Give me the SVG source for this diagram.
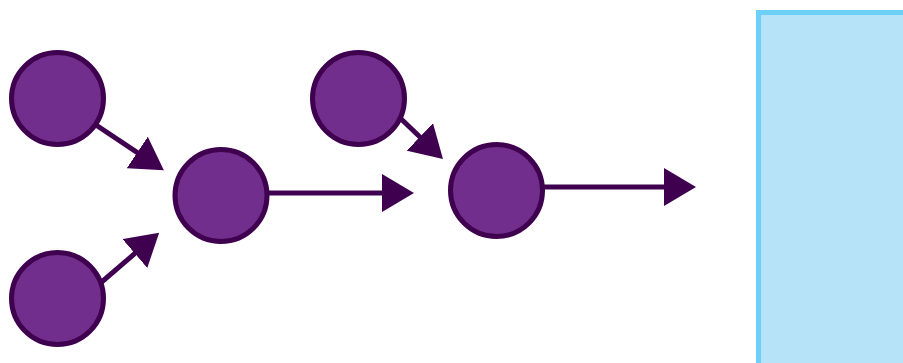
<svg xmlns="http://www.w3.org/2000/svg" width="903" height="363" viewBox="0 0 903 363">
<style>
.node{fill:#722e8c;stroke:#3f0050;stroke-width:5}
.edge{stroke:#3f0050;stroke-width:5;fill:none;marker-end:url(#ah)}
</style>
<defs>
<marker id="ah" markerUnits="userSpaceOnUse" markerWidth="32" markerHeight="38" viewBox="0 0 32 38" refX="2" refY="19" orient="auto">
<path d="M0,0 L32,19 L0,38 z" fill="#3f0050"/>
</marker>
</defs>
<rect x="758.5" y="12.5" width="160" height="360" fill="#b7e3f9" stroke="#6dd0f7" stroke-width="5"/>
<g id="connectors">
<line class="edge" x1="90" y1="121" x2="138.9" y2="153.6"/>
<line class="edge" x1="97" y1="286" x2="136.4" y2="252.2"/>
<line class="edge" x1="265" y1="193" x2="384" y2="193"/>
<line class="edge" x1="398" y1="116" x2="421.3" y2="138.3"/>
<line class="edge" x1="540" y1="187" x2="666" y2="187"/>
</g>
<g id="nodeA"><circle class="node" cx="57.5" cy="98.5" r="46"/></g>
<g id="nodeB"><circle class="node" cx="221" cy="195.5" r="46"/></g>
<g id="nodeC"><circle class="node" cx="57.5" cy="298.5" r="46"/></g>
<g id="nodeD"><circle class="node" cx="358.5" cy="98.5" r="46"/></g>
<g id="nodeE"><circle class="node" cx="496.5" cy="190.5" r="46"/></g>
</svg>
